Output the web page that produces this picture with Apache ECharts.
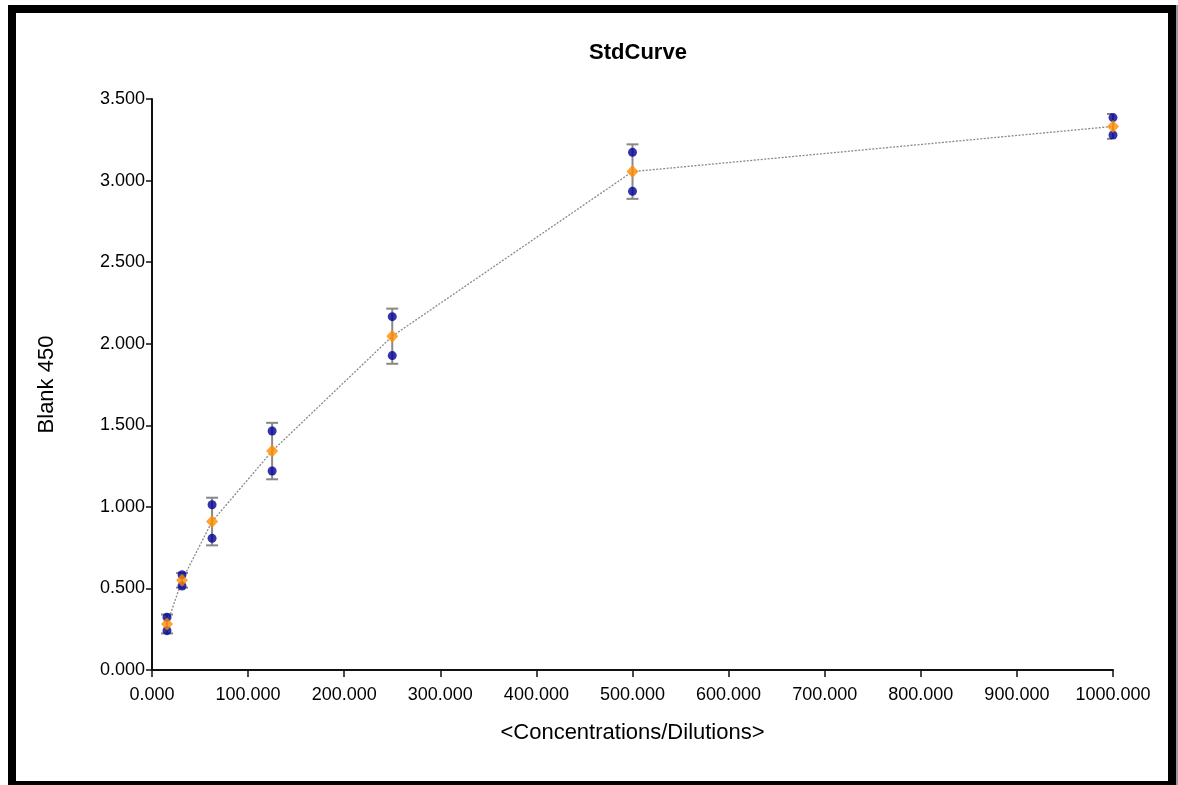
<!DOCTYPE html>
<html lang="en">
<head>
    <meta charset="UTF-8">
    <title>StdCurve</title>
    <script src="https://cdn.jsdelivr.net/npm/echarts@6/dist/echarts.min.js"></script>
    <style>
        html, body { margin: 0; padding: 0; background: #fff; }
        #chart { width: 1178px; height: 785px; }
    </style>
</head>
<body>
    <div id="chart"></div>
    <script type="text/javascript">
        // standard concentrations (x) and the two replicate readings
        var concentrations = [15.625, 31.25, 62.5, 125, 250, 500, 1000];
        var replicate1 = [0.323, 0.584, 1.013, 1.465, 2.166, 3.173, 3.386];
        var replicate2 = [0.241, 0.515, 0.807, 1.220, 1.927, 2.934, 3.279];
        // mean of replicates and the error bar half height (SD)
        var means = [0.282, 0.550, 0.910, 1.342, 2.046, 3.055, 3.332];
        var sds = [0.058, 0.045, 0.146, 0.173, 0.169, 0.167, 0.076];

        var xTicks = [0, 100, 200, 300, 400, 500, 600, 700, 800, 900, 1000];
        var yTicks = [0, 0.5, 1, 1.5, 2, 2.5, 3, 3.5];

        var font = 'Liberation Sans, Arial, sans-serif';

        var rep1Data = concentrations.map(function (c, i) { return [c, replicate1[i]]; });
        var rep2Data = concentrations.map(function (c, i) { return [c, replicate2[i]]; });
        var meanData = concentrations.map(function (c, i) { return [c, means[i]]; });
        var errData = concentrations.map(function (c, i) { return [c, means[i] - sds[i], means[i] + sds[i]]; });

        var myChart = echarts.init(document.getElementById('chart'));
        var option = {
            backgroundColor: '#fff',
            animation: false,
            title: {
                text: 'StdCurve',
                left: 633,
                top: 37,
                textAlign: 'center',
                textStyle: { fontFamily: font, fontSize: 22, fontWeight: 'bold', color: '#000' }
            },
            grid: { left: 152, right: 65, top: 99, bottom: 115 },
            graphic: [
                {
                    type: 'rect',
                    shape: { x: 12, y: 9, width: 1160, height: 776 },
                    style: { fill: 'none', stroke: '#000', lineWidth: 8 },
                    silent: true
                },
                {
                    type: 'rect',
                    shape: { x: 1176, y: 5, width: 2, height: 780 },
                    style: { fill: '#999' },
                    silent: true
                }
            ],
            xAxis: {
                type: 'value',
                min: xTicks[0],
                max: xTicks[xTicks.length - 1],
                interval: 100,
                name: '<Concentrations/Dilutions>',
                nameLocation: 'middle',
                nameGap: 52,
                nameTextStyle: { fontFamily: font, fontSize: 22, color: '#000' },
                splitLine: { show: false },
                axisLine: { lineStyle: { color: '#111', width: 2 } },
                axisTick: { length: 7, lineStyle: { color: '#111', width: 1.5 } },
                axisLabel: {
                    fontFamily: font, fontSize: 18, color: '#000', margin: 16,
                    formatter: function (v) { return v.toFixed(3); }
                }
            },
            yAxis: {
                type: 'value',
                min: yTicks[0],
                max: yTicks[yTicks.length - 1],
                interval: 0.5,
                name: 'Blank 450',
                nameLocation: 'middle',
                nameGap: 94,
                nameTextStyle: { fontFamily: font, fontSize: 22, color: '#000' },
                splitLine: { show: false },
                axisLine: { lineStyle: { color: '#111', width: 2 } },
                axisTick: { length: 6, lineStyle: { color: '#111', width: 1.5 } },
                axisLabel: {
                    fontFamily: font, fontSize: 18, color: '#000', margin: 7,
                    formatter: function (v) { return v.toFixed(3); }
                }
            },
            series: [
                {
                    name: 'SD',
                    type: 'custom',
                    z: 1,
                    data: errData,
                    renderItem: function (params, api) {
                        var top = api.coord([api.value(0), api.value(2)]);
                        var bot = api.coord([api.value(0), api.value(1)]);
                        // caps are cut at the plot edge, as in the original
                        var rightEdge = params.coordSys.x + params.coordSys.width;
                        var capR = Math.min(top[0] + 6, rightEdge - 1);
                        var style = { stroke: '#888', lineWidth: 2 };
                        return {
                            type: 'group',
                            children: [
                                { type: 'line', shape: { x1: top[0], y1: top[1], x2: bot[0], y2: bot[1] }, style: style },
                                { type: 'line', shape: { x1: top[0] - 6, y1: top[1], x2: capR, y2: top[1] }, style: style },
                                { type: 'line', shape: { x1: bot[0] - 6, y1: bot[1], x2: capR, y2: bot[1] }, style: style }
                            ]
                        };
                    }
                },
                {
                    name: 'curve',
                    type: 'line',
                    z: 2,
                    data: meanData,
                    symbol: 'none',
                    lineStyle: { color: '#8a8a8a', width: 1.3, type: [2, 1.5] }
                },
                {
                    name: 'rep1',
                    type: 'scatter',
                    z: 3,
                    data: rep1Data,
                    symbol: 'circle',
                    symbolSize: 9,
                    itemStyle: { color: '#000096' }
                },
                {
                    name: 'rep2',
                    type: 'scatter',
                    z: 3,
                    data: rep2Data,
                    symbol: 'circle',
                    symbolSize: 9,
                    itemStyle: { color: '#000096' }
                },
                {
                    name: 'mean',
                    type: 'scatter',
                    z: 4,
                    data: meanData,
                    symbol: 'diamond',
                    symbolSize: [12, 13],
                    itemStyle: { color: '#ff8c00' }
                }
            ]
        };
        myChart.setOption(option);
    </script>
</body>
</html>
